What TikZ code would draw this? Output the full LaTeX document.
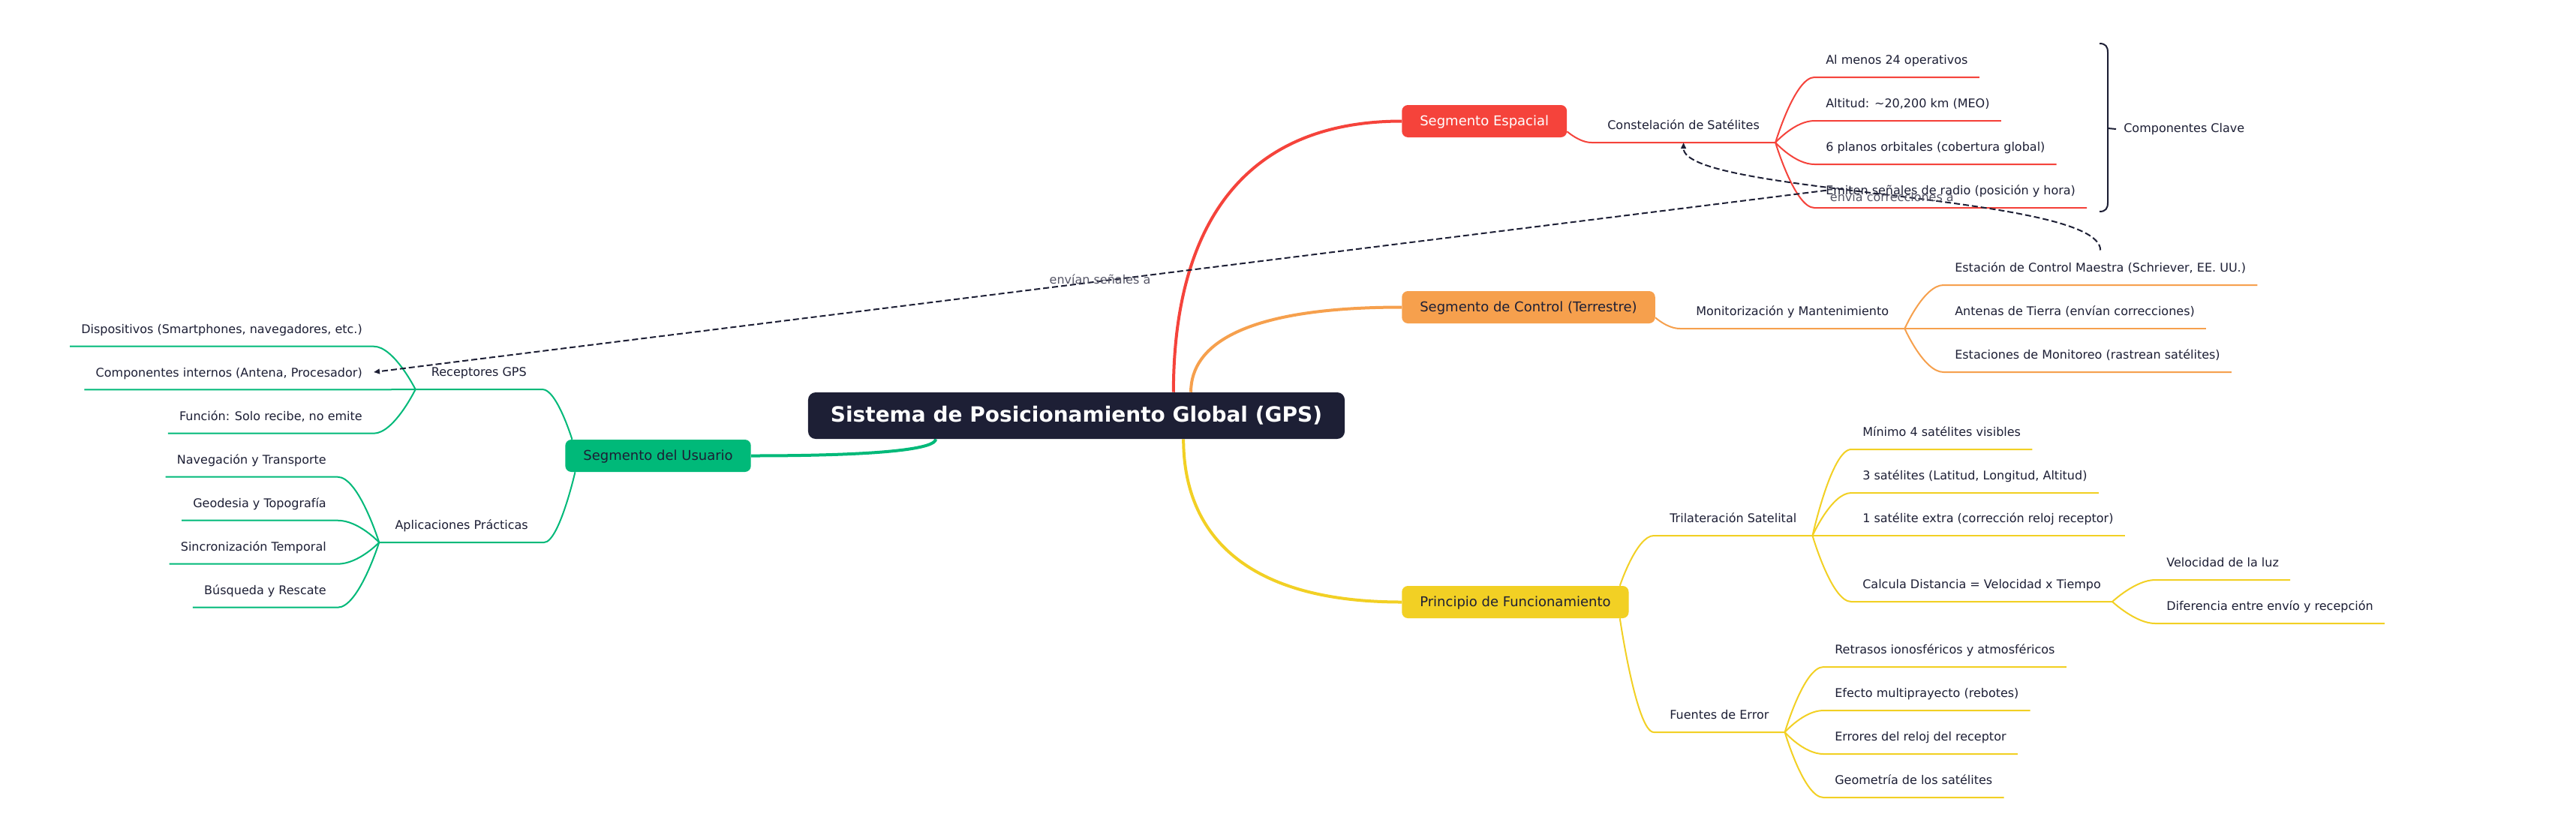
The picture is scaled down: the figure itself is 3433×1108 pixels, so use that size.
\documentclass[tikz,border=0pt]{standalone}
\usepackage{fontspec}
\setmainfont{DejaVu Sans}
\usetikzlibrary{arrows.meta,backgrounds}
\definecolor{ink}{HTML}{1D1F35}
\definecolor{cred}{HTML}{F5433B}
\definecolor{corange}{HTML}{F6A04D}
\definecolor{cyellow}{HTML}{F2D024}
\definecolor{cgreen}{HTML}{00B979}
\definecolor{lblgray}{HTML}{555566}
\begin{document}
\begin{tikzpicture}[x=0.75pt,y=-0.75pt,
  every node/.style={font=\fontsize{12}{14}\selectfont, text=ink},
  rootbox/.style={fill=ink, text=white, rounded corners=7.5pt, font=\fontsize{21}{25}\selectfont\bfseries, inner xsep=22.5pt, inner ysep=0pt, minimum height=46.5pt, text height=16.8pt, text depth=3.5pt},
  topicbox/.style={rounded corners=6pt, font=\fontsize{13.5}{16}\selectfont, inner xsep=18pt, inner ysep=0pt, minimum height=32.25pt, text height=11.4pt, text depth=1.7pt},
  subtopic/.style={inner xsep=15.75pt, inner ysep=11.25pt, text height=10.5pt, text depth=1.5pt},
  leaf/.style={inner xsep=11.25pt, inner ysep=11.25pt, text height=10.5pt, text depth=1.5pt},
  mainline/.style={line width=3pt},
  thinline/.style={line width=1.5pt},
  relline/.style={line width=1.5pt, draw=ink, dash pattern=on 6pt off 3pt, -{Triangle[length=6pt,width=5pt]}},
  rellabel/.style={text=lblgray, inner sep=0pt, text height=9pt, text depth=3pt},
]
\useasboundingbox (0,0) rectangle (3433,1108);

% root and main topics
\node[rootbox] (root) at (1434.5,554) {Sistema de Posicionamiento Global (GPS)};
\node[topicbox, fill=cred, text=white, anchor=west] (esp) at (1868,161.5) {Segmento Espacial};
\node[topicbox, fill=corange, anchor=west] (ctl) at (1868,409.5) {Segmento de Control (Terrestre)};
\node[topicbox, fill=cyellow, anchor=west] (pri) at (1868,802.5) {Principio de Funcionamiento};
\node[topicbox, fill=cgreen, anchor=east] (usu) at (1001,607.5) {Segmento del Usuario};

% subtopics
\node[subtopic, anchor=south west] (con) at (2121,190) {Constelación de Satélites};
\node[subtopic, anchor=south west] (mon) at (2239,438) {Monitorización y Mantenimiento};
\node[subtopic, anchor=south west] (tri) at (2204,714) {Trilateración Satelital};
\node[subtopic, anchor=south west] (fue) at (2204,976) {Fuentes de Error};
\node[subtopic, anchor=south east] (rec) at (723,519) {Receptores GPS};
\node[subtopic, anchor=south east] (apl) at (725,723) {Aplicaciones Prácticas};

% leaves: espacial
\node[leaf, anchor=south west] (s1) at (2418,103) {Al menos 24 operativos};
\node[leaf, anchor=south west] (s2) at (2418,161) {Altitud: \textasciitilde20,200 km (MEO)};
\node[leaf, anchor=south west] (s3) at (2418,219) {6 planos orbitales (cobertura global)};
\node[leaf, anchor=south west] (s4) at (2418,277) {Emiten señales de radio (posición y hora)};
% control
\node[leaf, anchor=south west] (c1) at (2590,380) {Estación de Control Maestra (Schriever, EE. UU.)};
\node[leaf, anchor=south west] (c2) at (2590,438) {Antenas de Tierra (envían correcciones)};
\node[leaf, anchor=south west] (c3) at (2590,496) {Estaciones de Monitoreo (rastrean satélites)};
% trilateracion
\node[leaf, anchor=south west] (t1) at (2467,599) {Mínimo 4 satélites visibles};
\node[leaf, anchor=south west] (t2) at (2467,657) {3 satélites (Latitud, Longitud, Altitud)};
\node[leaf, anchor=south west] (t3) at (2467,714) {1 satélite extra (corrección reloj receptor)};
\node[leaf, anchor=south west] (t4) at (2467,802) {Calcula Distancia = Velocidad x Tiempo};
\node[leaf, anchor=south west] (v1) at (2872,773) {Velocidad de la luz};
\node[leaf, anchor=south west] (v2) at (2872,831) {Diferencia entre envío y recepción};
% fuentes
\node[leaf, anchor=south west] (f1) at (2430,889) {Retrasos ionosféricos y atmosféricos};
\node[leaf, anchor=south west] (f2) at (2430,947) {Efecto multiprayecto (rebotes)};
\node[leaf, anchor=south west] (f3) at (2430,1005) {Errores del reloj del receptor};
\node[leaf, anchor=south west] (f4) at (2430,1063) {Geometría de los satélites};
% receptores
\node[leaf, anchor=south east] (r1) at (498,461.7) {Dispositivos (Smartphones, navegadores, etc.)};
\node[leaf, anchor=south east] (r2) at (498,519.3) {Componentes internos (Antena, Procesador)};
\node[leaf, anchor=south east] (r3) at (498,577.7) {Función: Solo recibe, no emite};
% aplicaciones
\node[leaf, anchor=south east] (a1) at (450,635.7) {Navegación y Transporte};
\node[leaf, anchor=south east] (a2) at (450,693.7) {Geodesia y Topografía};
\node[leaf, anchor=south east] (a3) at (450,751.7) {Sincronización Temporal};
\node[leaf, anchor=south east] (a4) at (450,809.7) {Búsqueda y Rescate};

% summary label
\node[anchor=west, inner sep=0pt, text height=9pt, text depth=3pt] (cc) at (2830,172) {Componentes Clave};

\begin{scope}[on background layer]
\fill[white] (0,0) rectangle (3433,1108);
% main branches
\draw[mainline,cred] ([xshift=97pt]root.north) .. controls +(0,-199) and +(-228,0) .. (esp.west);
\draw[mainline,corange] ([xshift=114.4pt]root.north) .. controls +(0,-63) and +(-211,0) .. (ctl.west);
\draw[mainline,cyellow] ([xshift=107pt]root.south) .. controls +(0,119) and +(-218,0) .. (pri.west);
\draw[mainline,cgreen] ([xshift=-140.6pt]root.south) .. controls +(0,12) and +(184,0) .. (usu.east);

% red
\draw[thinline,cred] ([yshift=6pt]esp.south east) .. controls +(0,0) and +(-16,0) .. (con.south west) -- (con.south east);
\foreach \n in {s1,s2,s3,s4}
  \draw[thinline,cred] (con.south east) .. controls +(0,0) and +(-26,0) .. (\n.south west) -- (\n.south east);
% orange
\draw[thinline,corange] ([yshift=6pt]ctl.south east) .. controls +(0,0) and +(-17,0) .. (mon.south west) -- (mon.south east);
\foreach \n in {c1,c2,c3}
  \draw[thinline,corange] (mon.south east) .. controls +(0,0) and +(-26,0) .. (\n.south west) -- (\n.south east);
% yellow
\draw[thinline,cyellow] ([xshift=-9pt]pri.north east) .. controls +(0,0) and +(-23,0) .. (tri.south west) -- (tri.south east);
\draw[thinline,cyellow] ([xshift=-9pt]pri.south east) .. controls +(0,0) and +(-23,0) .. (fue.south west) -- (fue.south east);
\foreach \n in {t1,t2,t3,t4}
  \draw[thinline,cyellow] (tri.south east) .. controls +(0,0) and +(-26,0) .. (\n.south west) -- (\n.south east);
\foreach \n in {v1,v2}
  \draw[thinline,cyellow] (t4.south east) .. controls +(0,0) and +(-26,0) .. (\n.south west) -- (\n.south east);
\foreach \n in {f1,f2,f3,f4}
  \draw[thinline,cyellow] (fue.south east) .. controls +(0,0) and +(-26,0) .. (\n.south west) -- (\n.south east);
% green
\draw[thinline,cgreen] ([xshift=7pt]usu.north west) .. controls +(0,0) and +(19,0) .. (rec.south east) -- (rec.south west);
\draw[thinline,cgreen] ([xshift=10pt]usu.south west) .. controls +(0,0) and +(20,0) .. (apl.south east) -- (apl.south west);
\foreach \n in {r1,r2,r3}
  \draw[thinline,cgreen] (rec.south west) .. controls +(0,0) and +(27,0) .. (\n.south east) -- (\n.south west);
\foreach \n in {a1,a2,a3,a4}
  \draw[thinline,cgreen] (apl.south west) .. controls +(0,0) and +(28,0) .. (\n.south east) -- (\n.south west);
\end{scope}

% brace
\draw[line width=1.5pt, ink] (2798,58) .. controls (2806,58) and (2809,62) .. (2809,70) -- (2809,270) .. controls (2809,278) and (2806,282) .. (2798,282);
\draw[line width=1.5pt, ink] (2809,171) -- ([xshift=-7.5pt]cc.west);

% cross links
\draw[relline] ([xshift=12pt]s4.west) -- node[rellabel]{envían señales a} (r2.east);
\draw[relline] (c1.north) .. controls +(0,-75) and +(0,69) .. node[rellabel, yshift=-4pt]{envía correcciones a} (con.south);
\end{tikzpicture}
\end{document}
